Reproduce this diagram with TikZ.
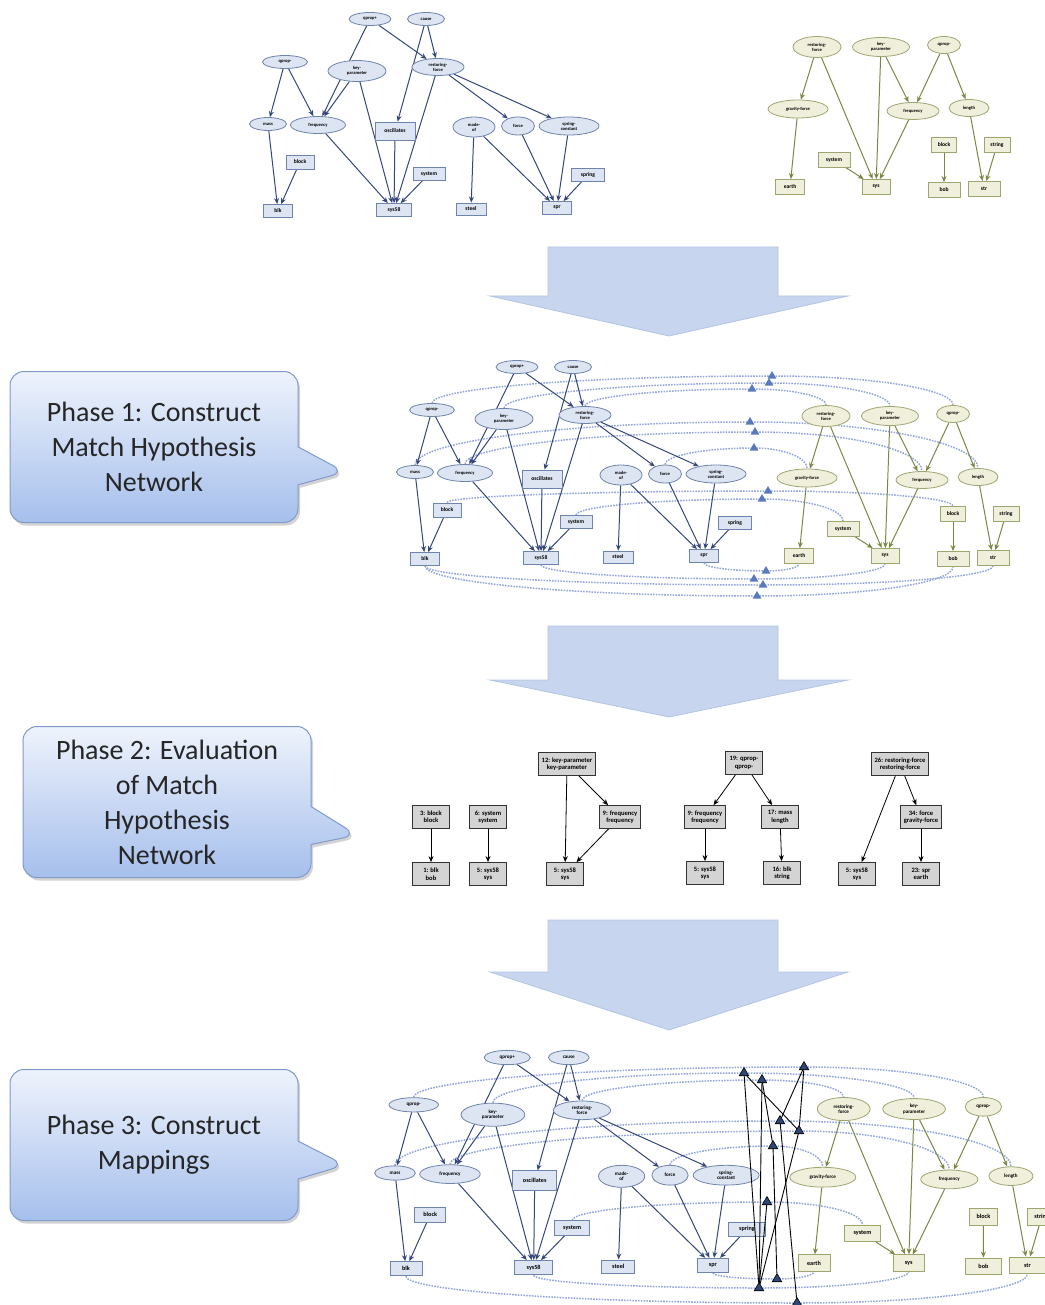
\documentclass[tikz,border=0pt]{standalone}
\usepackage{fontspec}
\setmainfont{Carlito}
\usetikzlibrary{arrows.meta, calc, shapes.geometric, shapes.callouts, shadows}

\definecolor{bfill}{HTML}{DDE4F2}
\definecolor{bdraw}{HTML}{6F84AC}
\definecolor{bedge}{HTML}{34477A}
\definecolor{gfill}{HTML}{EFEFDC}
\definecolor{gdraw}{HTML}{9EA670}
\definecolor{gedge}{HTML}{7A8846}
\definecolor{arccol}{HTML}{93A5DC}
\definecolor{trifill}{HTML}{5A79BA}
\definecolor{trideep}{HTML}{2E4674}
\definecolor{bigarr}{HTML}{C7D5EE}
\definecolor{bigarrline}{HTML}{B3C4E5}
\definecolor{calltop}{HTML}{EEF3FC}
\definecolor{callbot}{HTML}{A6BFEC}
\definecolor{callline}{HTML}{7E9BCB}

\pgfdeclarelayer{arcs}
\pgfdeclarelayer{edges}
\pgfsetlayers{arcs,edges,main}

\newcommand{\elfont}{\fontsize{4.6}{5}\selectfont\bfseries}
\newcommand{\bxfont}{\fontsize{5.6}{6}\selectfont\bfseries}
\newcommand{\mhfont}{\fontsize{6.6}{7.4}\selectfont\bfseries}
\newcommand{\phfont}{\fontsize{28}{35}\selectfont}

\tikzset{
  bel/.style={ellipse, draw=bdraw, fill=bfill, line width=0.8pt, inner sep=0pt,
    minimum height=13pt, align=center, font=\elfont},
  bbx/.style={rectangle, draw=bdraw, fill=bfill, line width=0.8pt, inner sep=0pt,
    minimum height=13pt, font=\bxfont},
  gel/.style={bel, draw=gdraw, fill=gfill},
  gbx/.style={bbx, draw=gdraw, fill=gfill},
  bln/.style={draw=bedge, line width=1pt, -{Stealth[length=6pt,width=5pt]}},
  gln/.style={bln, draw=gedge},
  mharc/.style={draw=arccol, line width=1.5pt, dash pattern=on 1.6pt off 1.2pt},
  rise/.style={to path={let \p1=(\tikztostart), \p2=(\tikztotarget) in
    .. controls (\x1,{\y1+0.55*(\y2-\y1)}) and ({\x2-0.55*(\x2-\x1)},\y2) .. (\tikztotarget)}},
  fall/.style={to path={let \p1=(\tikztostart), \p2=(\tikztotarget) in
    .. controls ({\x1+0.55*(\x2-\x1)},\y1) and (\x2,{\y2+0.55*(\y1-\y2)}) .. (\tikztotarget)}},
  mhtri/.style={regular polygon, regular polygon sides=3, fill=trifill, inner sep=0pt,
    minimum size=10pt},
  mhdeep/.style={mhtri, fill=trideep, draw=black, line width=0.6pt, minimum size=11pt},
  mapline/.style={draw=black, line width=0.9pt},
  mhbox/.style={rectangle, draw=black!80, fill=black!17, line width=0.8pt, font=\mhfont,
    align=center, minimum height=23pt, minimum width=37pt, inner xsep=3pt},
  mhedge/.style={draw=black, line width=0.8pt, -{Stealth[length=6pt,width=5pt]}},
  bigarrow/.style={fill=bigarr, draw=bigarrline, line width=0.8pt},
  phase/.style={rectangle callout, rounded corners=14pt, draw=callline, line width=1pt,
    top color=calltop, bottom color=callbot, minimum width=288pt, minimum height=151pt,
    align=center, font=\phfont, text=black!85, callout pointer width=38pt,
    drop shadow={opacity=0.35, shadow xshift=2pt, shadow yshift=-3pt}},
  bluegraph/.pic={
    \node[bel, minimum width=42pt] (-qpp) at (102,105) {qprop+};
    \node[bel, minimum width=37pt] (-cause) at (158,105) {cause};
    \node[bel, minimum width=45pt] (-qpm) at (17,62) {qprop-};
    \node[bel, minimum width=58pt, minimum height=21pt] (-kp) at (89,53) {key-\\parameter};
    \node[bel, minimum width=52pt, minimum height=17pt] (-rf) at (170,57) {restoring-\\force};
    \node[bel, minimum width=37pt] (-mass) at (0,0) {mass};
    \node[bel, minimum width=55pt, minimum height=17pt] (-freq) at (50,-1) {frequency};
    \node[bbx, minimum width=40pt, minimum height=18pt] (-osc) at (127,-7) {oscillates};
    \node[bel, minimum width=42pt, minimum height=20pt] (-madeof) at (206,-3) {made-\\of};
    \node[bel, minimum width=33pt, minimum height=18pt] (-force) at (250,-2) {force};
    \node[bel, minimum width=60pt, minimum height=18pt] (-sc) at (301,-2) {spring-\\constant};
    \node[bbx, minimum width=28pt, minimum height=14pt] (-block) at (32,-38) {block};
    \node[bbx, minimum width=32pt] (-system) at (161,-50) {system};
    \node[bbx, minimum width=33pt] (-spring) at (320,-51) {spring};
    \node[bbx, minimum width=29pt] (-blk) at (10,-87) {blk};
    \node[bbx, minimum width=35pt] (-sys58) at (126,-86) {sys58};
    \node[bbx, minimum width=30pt, minimum height=12pt] (-steel) at (203,-85) {steel};
    \node[bbx, minimum width=29pt] (-spr) at (289,-84) {spr};
    \begin{pgfonlayer}{edges}
    \foreach \s/\t in {qpp/freq, qpp/rf, cause/rf, cause/osc, qpm/mass, qpm/freq, kp/freq,
        kp/sys58, rf/sys58, rf/force, rf/sc, mass/blk, block/blk, freq/sys58, osc/sys58,
        system/sys58, madeof/steel, madeof/spr, force/spr, sc/spr, spring/spr}
      \draw[bln] (-\s) -- (-\t);
    \end{pgfonlayer}
  },
  greengraph/.pic={
    \node[gel, minimum width=48pt, minimum height=21pt] (-rf) at (27,140) {restoring-\\force};
    \node[gel, minimum width=57pt, minimum height=19pt] (-kp) at (91,140) {key-\\parameter};
    \node[gel, minimum width=33pt, minimum height=17pt] (-qpm) at (154,142) {qprop-};
    \node[gel, minimum width=60pt, minimum height=18pt] (-gf) at (8,78) {gravity-force};
    \node[gel, minimum width=52pt, minimum height=17pt] (-freq) at (123,76) {frequency};
    \node[gel, minimum width=40pt, minimum height=17pt] (-length) at (179,79) {length};
    \node[gbx, minimum width=25pt, minimum height=15pt] (-block) at (154,42) {block};
    \node[gbx, minimum width=26pt, minimum height=15pt] (-string) at (207,42) {string};
    \node[gbx, minimum width=32pt, minimum height=15pt] (-system) at (44,27) {system};
    \node[gbx, minimum width=29pt, minimum height=15pt] (-earth) at (0,0) {earth};
    \node[gbx, minimum width=28pt, minimum height=15pt] (-sys) at (86,0) {sys};
    \node[gbx, minimum width=32pt, minimum height=15pt] (-bob) at (154,-3) {bob};
    \node[gbx, minimum width=32pt, minimum height=15pt] (-str) at (194,-2) {str};
    \begin{pgfonlayer}{edges}
    \foreach \s/\t in {rf/gf, rf/sys, kp/sys, kp/freq, qpm/freq, qpm/length, gf/earth,
        freq/sys, system/sys, block/bob, length/str, string/str}
      \draw[gln] (-\s) -- (-\t);
    \end{pgfonlayer}
  },
}

\begin{document}
\begin{tikzpicture}[x=1pt, y=1pt]
\useasboundingbox (0,-1305) rectangle (1044,0);

% base and target descriptions
\pic (sb) at (268,-124) {bluegraph};
\pic (sg) at (790,-187) {greengraph};

% block arrows between the phases
\foreach \t/\b/\p in {247/296/336, 626/680/717, 920/972/1030}
  \draw[bigarrow] (548,-\t) -- (778,-\t) -- (778,-\b) -- (848,-\b) -- (669,-\p)
    -- (490,-\b) -- (548,-\b) -- cycle;

% Phase 1
\node[phase, callout absolute pointer={(345,-472)}] (ph1) at (154,-447)
  {Phase 1: Construct\\Match Hypothesis\\Network};
\pic (hb) at (415,-472) {bluegraph};
\pic (hg) at (799,-556) {greengraph};
\foreach \k/\x/\y in {19/772/376, 12/769/383, 26/752/389, 17/750/422, 9/755/432,
    34/754/448, 3/768/491, 6/762/499, 23/766/571, 5/754/579, 16/763/585, 1/757/596}
  \coordinate (h\k) at (\x,-\y);
\begin{pgfonlayer}{arcs}
\foreach \s/\k/\t in {qpm/19/qpm, kp/12/kp, rf/26/rf, mass/17/length, freq/9/freq,
    force/34/gf, block/3/block, system/6/system}
  \draw[mharc] (hb-\s.north) to[rise] (h\k) to[fall] (hg-\t.north);
\foreach \s/\k/\t in {spr/23/earth, sys58/5/sys, blk/16/str, blk/1/bob}
  \draw[mharc] (hb-\s.south) to[rise] (h\k) to[fall] (hg-\t.south);
\end{pgfonlayer}
\foreach \k in {19,12,26,17,9,34,3,6,23,5,16,1}
  \node[mhtri] (th\k) at (h\k) {};

% Phase 2
\node[phase, callout absolute pointer={(357,-835)}] (ph2) at (167,-802)
  {Phase 2: Evaluation\\of Match\\Hypothesis\\Network};
\node[mhbox] (e3) at (431,-817) {3: block\\block};
\node[mhbox] (e1) at (431,-874) {1: blk\\bob};
\node[mhbox] (e6) at (488,-817) {6: system\\system};
\node[mhbox] (e5a) at (488,-874) {5: sys58\\sys};
\node[mhbox] (e12) at (567,-764) {12: key-parameter\\key-parameter};
\node[mhbox] (e9a) at (620,-817) {9: frequency\\frequency};
\node[mhbox] (e5b) at (565,-874) {5: sys58\\sys};
\node[mhbox] (e19) at (744,-763) {19: qprop-\\qprop-};
\node[mhbox] (e9b) at (705,-817) {9: frequency\\frequency};
\node[mhbox] (e17) at (780,-817) {17: mass\\length};
\node[mhbox] (e5c) at (705,-873) {5: sys58\\sys};
\node[mhbox] (e16) at (782,-873) {16: blk\\string};
\node[mhbox] (e26) at (900,-764) {26: restoring-force\\restoring-force};
\node[mhbox] (e34) at (921,-817) {34: force\\gravity-force};
\node[mhbox] (e5d) at (857,-874) {5: sys58\\sys};
\node[mhbox] (e23) at (921,-874) {23: spr\\earth};
\foreach \s/\t in {e3/e1, e6/e5a, e12/e5b, e12/e9a, e9a/e5b, e19/e9b, e19/e17, e9b/e5c,
    e17/e16, e26/e5d, e26/e34, e34/e23}
  \draw[mhedge] (\s) -- (\t);

% Phase 3
\node[phase, callout absolute pointer={(345,-1165)}] (ph3) at (154,-1145)
  {Phase 3: Construct\\Mappings};
\begin{scope}[shift={(395,-1173)}, scale=1.1, transform shape]
  \pic (mb) at (0,0) {bluegraph};
\end{scope}
\begin{scope}[shift={(814,-1263)}, scale=1.1, transform shape]
  \pic (mg) at (0,0) {greengraph};
\end{scope}
\foreach \k/\x/\y in {19/804/1067, 12/744/1073, 26/762/1080, 17/780/1121, 9/799/1131,
    34/773/1146, 6/767/1202, 23/777/1279, 5/759/1288, 16/797/1303}
  \coordinate (m\k) at (\x,-\y);
\begin{pgfonlayer}{arcs}
\foreach \s/\k/\t in {qpm/19/qpm, kp/12/kp, rf/26/rf, mass/17/length, freq/9/freq,
    force/34/gf, system/6/system}
  \draw[mharc] (mb-\s.north) to[rise] (m\k) to[fall] (mg-\t.north);
\foreach \s/\k/\t in {spr/23/earth, sys58/5/sys, blk/16/str}
  \draw[mharc] (mb-\s.south) to[rise] (m\k) to[fall] (mg-\t.south);
\end{pgfonlayer}
\foreach \k in {19,12,26,17,9,34,6,23,5,16}
  \node[mhdeep] (tm\k) at (m\k) {};
\foreach \s/\t in {12/9, 12/5, 9/5, 19/9, 19/17, 17/16, 26/5, 26/34, 34/23, 6/5}
  \draw[mapline] (tm\s) -- (tm\t);
\end{tikzpicture}
\end{document}
